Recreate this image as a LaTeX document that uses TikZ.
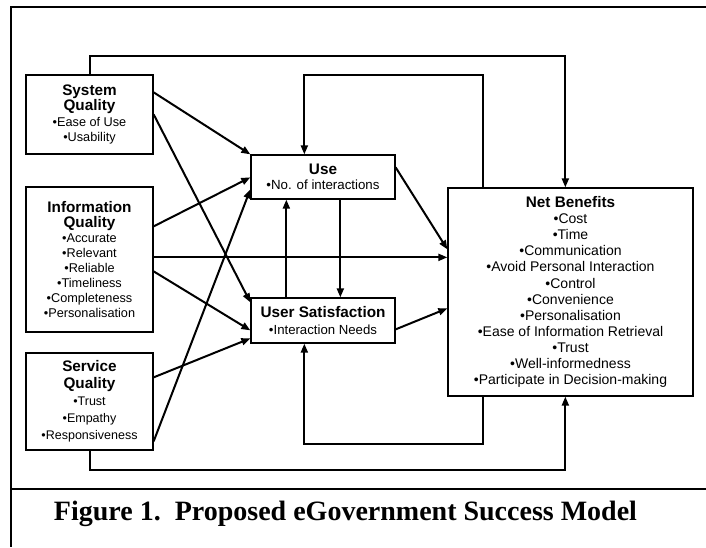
\documentclass[tikz,border=0pt]{standalone}
\usepackage{fontspec}
\setmainfont{Liberation Sans}
\newfontfamily\capfont{Liberation Serif}
\usetikzlibrary{arrows.meta,calc}
\newcommand\bxtitle[1]{{\fontsize{15.3}{15.5}\selectfont\bfseries #1}}
\begin{document}
\begin{tikzpicture}[x=1pt,y=-1pt,
  box/.style={draw,line width=1.3pt,rectangle,inner sep=0pt,align=center},
  conn/.style={line width=2pt,-{Triangle[length=9pt,width=7pt]}},
  frame/.style={line width=2pt}]
\useasboundingbox (0,0) rectangle (706,547);
% frame
\coordinate (ftr) at (706,7);
\coordinate (ftl) at (11,7);
\coordinate (fbl) at (11,547);
\coordinate (fdl) at (11,489);
\coordinate (fdr) at (706,489);
\draw[frame] (ftr) -- (ftl) -- (fbl);
\draw[frame] (fdl) -- (fdr);
% boxes
\node[box,minimum width=127pt,minimum height=79pt,font=\fontsize{12.7}{15.5}\selectfont] (sq) at (89.5,114.5)
  {\bxtitle{System}\\\bxtitle{Quality}\\•Ease of Use\\•Usability};
\node[box,minimum width=127pt,minimum height=145pt,font=\fontsize{12.7}{15}\selectfont] (iq) at (89.5,259.5)
  {\bxtitle{Information}\\\bxtitle{Quality}\\•Accurate\\•Relevant\\•Reliable\\•Timeliness\\•Completeness\\•Personalisation};
\node[box,minimum width=127pt,minimum height=97pt,font=\fontsize{12.5}{17}\selectfont] (sv) at (89.5,401.5)
  {\bxtitle{Service}\\\bxtitle{Quality}\\•Trust\\•Empathy\\•Responsiveness};
\node[box,minimum width=144pt,minimum height=44pt,font=\fontsize{13.3}{15.5}\selectfont] (use) at (323,177)
  {\bxtitle{Use}\\•No. of interactions};
\node[box,minimum width=144pt,minimum height=45pt,font=\fontsize{13.2}{17}\selectfont] (us) at (323,320.5)
  {\bxtitle{User Satisfaction}\\•Interaction Needs};
\node[box,minimum width=245pt,minimum height=208pt,font=\fontsize{14}{16.1}\selectfont] (nb) at (570.5,292)
  {\bxtitle{Net Benefits}\\•Cost\\•Time\\•Communication\\•Avoid Personal Interaction\\•Control\\•Convenience\\•Personalisation\\•Ease of Information Retrieval\\•Trust\\•Well-informedness\\•Participate in Decision-making};
% caption
\node[font=\capfont\bfseries\fontsize{28}{32}\selectfont,anchor=base,inner sep=0pt] (cap) at (345.5,520)
  {Figure 1.\ \ Proposed eGovernment Success Model};
% connection points
\coordinate (sqa) at ($(sq.north east)+(0,18)$);
\coordinate (sqb) at ($(sq.north east)+(0,40)$);
\coordinate (iqa) at ($(iq.north east)+(0,40)$);
\coordinate (iqb) at ($(iq.north east)+(0,71)$);
\coordinate (iqc) at ($(iq.north east)+(0,85)$);
\coordinate (sva) at ($(sv.north east)+(0,25)$);
\coordinate (svb) at ($(sv.north east)+(0,89)$);
\coordinate (usea) at ($(use.north west)+(0,23)$);
\coordinate (useb) at ($(use.north west)+(0,35)$);
\coordinate (usa) at ($(us.north west)+(0,5)$);
\coordinate (usb) at ($(us.north west)+(0,33)$);
\coordinate (usc) at ($(us.north west)+(0,41)$);
\coordinate (useo) at ($(use.north east)+(0,13)$);
\coordinate (uso) at ($(us.north east)+(0,32)$);
\coordinate (nba) at ($(nb.north west)+(0,62)$);
\coordinate (nbb) at ($(nb.north west)+(0,121)$);
\coordinate (ustop) at ($(us.north west)+(36,0)$);
\coordinate (usebot) at ($(use.south west)+(90,0)$);
\coordinate (nbt1) at ($(nb.north west)+(118,0)$);
\coordinate (nbt2) at ($(nb.north west)+(36,0)$);
\coordinate (nbb1) at ($(nb.south west)+(118,0)$);
\coordinate (nbb2) at ($(nb.south west)+(36,0)$);
\coordinate (usetop) at ($(use.north west)+(54,0)$);
\coordinate (usbot) at ($(us.south west)+(54,0)$);
% arrows from left boxes
\draw[conn] (sqa) -- (use.north west);
\draw[conn] (sqb) -- (usa);
\draw[conn] (iqa) -- (usea);
\draw[conn] (iqb) -- (iqb -| nb.west);
\draw[conn] (iqc) -- (usb);
\draw[conn] (sva) -- (usc);
\draw[conn] (svb) -- (useb);
% middle
\draw[conn] (useo) -- (nba);
\draw[conn] (uso) -- (nbb);
\draw[conn] (ustop) -- (ustop |- use.south);
\draw[conn] (usebot) -- (usebot |- us.north);
% feedback loops
\draw[conn] (sq.north) -- ++(0,-18) -| (nbt1);
\draw[conn] (nbt2) -- ++(0,-112) -| (usetop);
\draw[conn] (nbb2) -- ++(0,47) -| (usbot);
\draw[conn] (sv.south) -- ++(0,19) -| (nbb1);
\end{tikzpicture}
\end{document}
